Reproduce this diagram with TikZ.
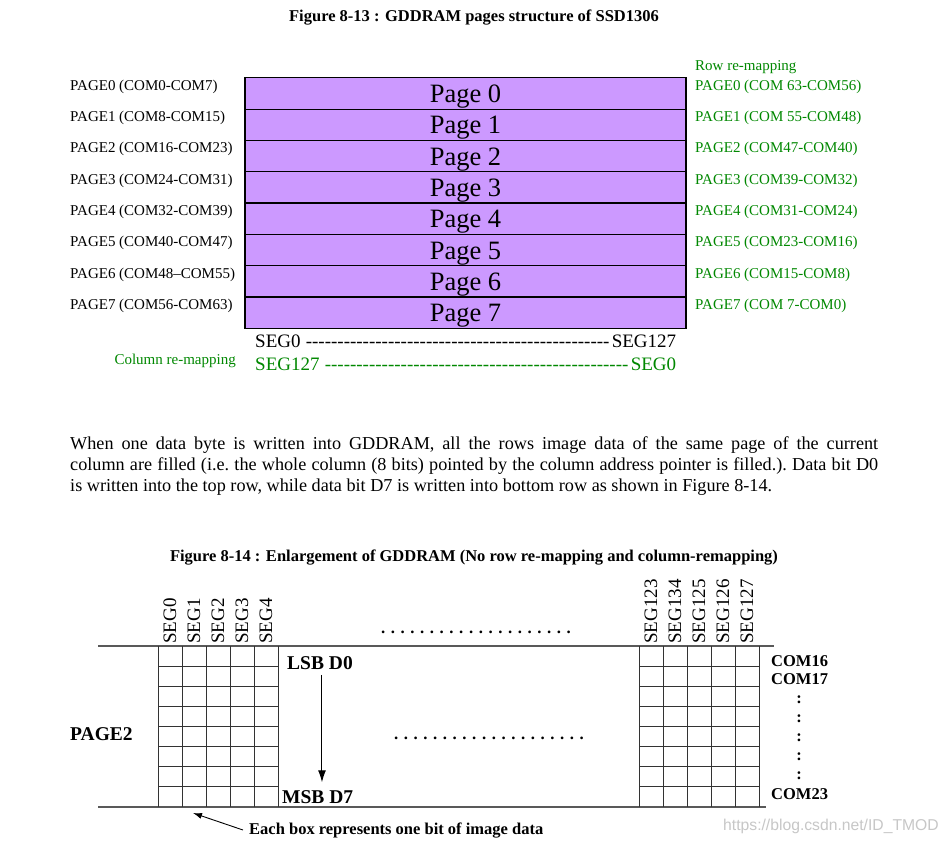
\documentclass[tikz,border=0pt]{standalone}
\usepackage{fontspec}
\setmainfont{Liberation Serif}
\newfontfamily\wmfont{Liberation Sans}
\usetikzlibrary{arrows.meta}
\definecolor{pagefill}{RGB}{204,153,255}
\definecolor{remapgreen}{RGB}{0,136,0}
\newcommand{\segspan}[2]{\hbox to 421pt{#1\ \leaders\hbox{-}\hfill#2}}
\tikzset{
  lbl/.style={anchor=west, inner sep=0pt, font=\fontsize{15}{18}\selectfont},
  remap/.style={lbl, text=remapgreen},
  pagebox/.style={draw, line width=1.2pt, fill=pagefill, minimum width=441pt,
    minimum height=31.3pt, inner sep=0pt, text height=21pt, text depth=3pt,
    font=\fontsize{26.5}{30}\selectfont},
  segtext/.style={anchor=west, inner sep=0pt, font=\fontsize{19}{22}\selectfont},
  seglbl/.style={rotate=90, anchor=west, inner sep=0pt, font=\fontsize{19}{22}\selectfont},
  boldlbl/.style={anchor=west, inner sep=0pt, font=\bfseries\fontsize{19.5}{22}\selectfont},
  comlbl/.style={anchor=west, inner sep=0pt, font=\bfseries\fontsize{16.5}{20}\selectfont},
  figtitle/.style={inner sep=0pt, font=\bfseries\fontsize{16.5}{20}\selectfont},
  dotrow/.style={inner sep=0pt, font=\bfseries\fontsize{16.75}{20}\selectfont},
  gridline/.style={line width=1pt, black!80},
  rule/.style={line width=1.2pt, black!65},
}
\begin{document}
\begin{tikzpicture}[x=1pt, y=-1pt]
\fill[white] (0,0) rectangle (949,844);
\useasboundingbox (0,0) rectangle (949,844);

% Figure 8-13
\node[figtitle] (title1) at (474,18) {Figure 8-13 : GDDRAM pages structure of SSD1306};
\foreach \p in {0,...,7}
  \node[pagebox] (page\p) at (465.5,{93.5+31.3*\p}) {Page \p};

% Page labels
\foreach \txt [count=\p from 0] in {COM0-COM7, COM8-COM15, COM16-COM23, COM24-COM31,
    COM32-COM39, COM40-COM47, COM48--COM55, COM56-COM63}
  \node[lbl] (lpage\p) at (70,{86.7+31.3*\p}) {PAGE\p\ (\txt)};
\node[remap] (rowremap) at (695,66.7) {Row re-mapping};
\foreach \txt [count=\p from 0] in {COM 63-COM56, COM 55-COM48, COM47-COM40, COM39-COM32,
    COM31-COM24, COM23-COM16, COM15-COM8, COM 7-COM0}
  \node[remap] (rpage\p) at (695,{86.7+31.3*\p}) {PAGE\p\ (\txt)};

% Segments
\node[segtext] (segrow) at (255,341) {\segspan{SEG0}{SEG127}};
\node[segtext, text=remapgreen] (segremap) at (255,364) {\segspan{SEG127}{SEG0}};
\node[remap, anchor=east] (colremap) at (236,361) {Column re-mapping};

% Text
\node[anchor=north west, inner sep=0pt, text width=808pt, align=justify,
  font=\fontsize{18.2}{21.3}\selectfont\frenchspacing] (para) at (70,436)
  {When one data byte is written into GDDRAM, all the rows image data of the same page of the current\linebreak
   column are filled (i.e.\ the whole column (8 bits) pointed by the column address pointer is filled.). Data bit D0\linebreak
   is written into the top row, while data bit D7 is written into bottom row as shown in Figure 8-14.};

% Figure 8-14
\node[figtitle] (title2) at (474,557) {Figure 8-14 : Enlargement of GDDRAM (No row re-mapping and column-remapping)};
\draw[rule] (98,646) -- (774,646);
\draw[rule] (98,807) -- (766,807);
\foreach \gx in {158,639} {
  \foreach \i in {0,...,5}
    \draw[gridline] ({\gx+24*\i},646) -- ({\gx+24*\i},807);
  \foreach \j in {1,...,7}
    \draw[gridline] (\gx,{646+20.125*\j}) -- ({\gx+120},{646+20.125*\j});
}
\foreach \n [count=\k from 0] in {SEG0,SEG1,SEG2,SEG3,SEG4}
  \node[seglbl] (segl\k) at ({170+24*\k},644) {\n};
\foreach \n [count=\k from 0] in {SEG123,SEG134,SEG125,SEG126,SEG127}
  \node[seglbl] (segr\k) at ({651+24*\k},644) {\n};
\node[dotrow] (dotstop) at (476,632) {. . . . . . . . . . . . . . . . . . . .};
\node[dotrow] (dotsmid) at (489,738) {. . . . . . . . . . . . . . . . . . . .};

% Labels
\node[boldlbl] (page2lbl) at (70,734) {PAGE2};
\node[boldlbl] (lsb) at (287,663) {LSB D0};
\node[boldlbl] (msb) at (282,797) {MSB D7};
\draw[-{Latex[length=12pt,width=8pt]}, line width=1pt]
  ([xshift=2pt,yshift=-5pt]lsb.south) -- ([xshift=2pt,yshift=8pt]lsb.south |- msb.north);
\node[comlbl] (com16) at (771,661) {COM16};
\node[comlbl] (com17) at (771,679) {COM17};
\foreach \cy [count=\c] in {700,719,738,757,776}
  \node[comlbl, anchor=center] (colon\c) at (799,\cy) {:};
\node[comlbl] (com23) at (771,794) {COM23};
\node[comlbl] (eachbox) at (249,830) {Each box represents one bit of image data};
\coordinate (boxtip) at (193,813);
\draw[-{Latex[length=9pt,width=6pt]}, line width=0.9pt] ([xshift=-6pt]eachbox.west) -- (boxtip);
\node[anchor=west, inner sep=0pt, font=\wmfont\fontsize{15.7}{18}\selectfont, text=black!22]
  (wmark) at (723,826) {https://blog.csdn.net/ID\_TMOD};
\end{tikzpicture}
\end{document}
